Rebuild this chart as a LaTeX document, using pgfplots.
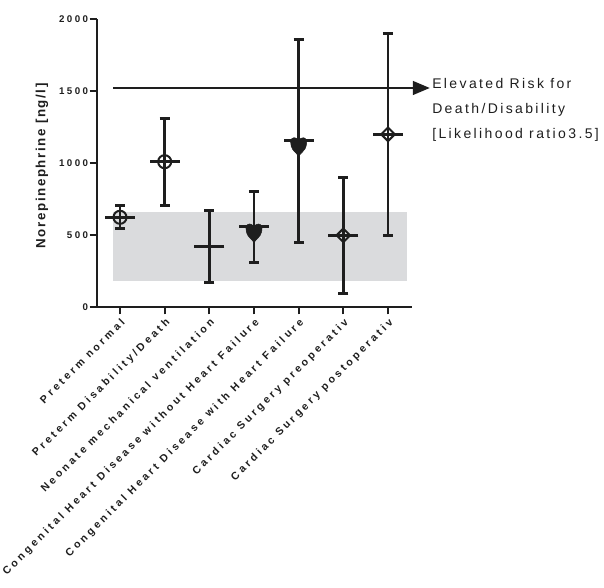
\documentclass[border=0pt]{standalone}
\usepackage{fontspec}
\setmainfont{Liberation Sans}
\newfontfamily\tickfont[LetterSpace=25]{Liberation Sans}
\newfontfamily\xtickfont[LetterSpace=28]{Liberation Sans}
\newfontfamily\labfont[LetterSpace=12]{Liberation Sans}
\newfontfamily\annfont[LetterSpace=17]{Liberation Sans}
\usepackage{pgfplots}
\pgfplotsset{compat=1.18}
\usetikzlibrary{arrows.meta,plotmarks}
\definecolor{band}{RGB}{218,219,221}
\definecolor{ink}{RGB}{30,30,30}

\begin{document}
\begin{tikzpicture}
\path[use as bounding box] (-72.75pt,-210pt) rectangle (380.25pt,230.25pt);
\begin{axis}[
  scale only axis, width=236pt, height=216pt,
  xmin=-0.515, xmax=6.53, ymin=0, ymax=2000,
  axis lines=left,
  axis line style={-, line width=1.6pt, ink},
  clip=false,
  xtick={0,1,2,3,4,5,6},
  xticklabels={Preterm normal, Preterm Disability/Death, Neonate mechanical ventilation, Congenital Heart Disease without Heart Failure, Congenital Heart Disease with Heart Failure, Cardiac Surgery preoperativ, Cardiac Surgery postoperativ},
  ytick={0,500,1000,1500,2000},
  tick align=outside, major tick length=5.5pt,
  tick style={line width=1.5pt, ink},
  /pgf/number format/assume math mode=true,
  /pgf/number format/1000 sep={},
  scaled y ticks=false,
  yticklabel style={font=\tickfont\bfseries\fontsize{7.3}{8}\selectfont, inner sep=1pt, text=ink},
  xticklabel style={font=\xtickfont\bfseries\fontsize{8}{9}\selectfont, rotate=45, anchor=north east, inner sep=1.5pt, text=ink},
  ylabel={Norepinephrine [ng/l]},
  ylabel style={font=\labfont\bfseries\fontsize{10}{12}\selectfont, at={(axis description cs:-0.175,0.49)}, anchor=center, text=ink},
]
\addplot[fill=band, draw=none] coordinates {(-0.15,181) (6.43,181) (6.43,660) (-0.15,660)} -- cycle;
\addplot[ink, line width=2.2pt, -{Triangle[length=12.75pt,width=10pt]}] coordinates {(-0.15,1521) (6.94,1521)};
\addplot[ink, only marks, mark=-, mark size=11.25pt, mark options={line width=2.2pt},
  error bars/.cd, y dir=both, y explicit,
  error bar style={line width=2.2pt, ink},
  error mark=-,
  error mark options={rotate=90, line width=2.2pt, mark size=3.75pt, ink}]
  coordinates {
  (0,623) += (0,85) -= (0,79)
  (1,1009) += (0,301) -= (0,303)
  (2,419) += (0,250) -= (0,250)
  (3,558) += (0,243) -= (0,248)
  (4,1157) += (0,702) -= (0,708)
  (5,498) += (0,403) -= (0,403)
  (6,1199) += (0,702) -= (0,701)
  };
\addplot[ink, only marks, mark=o, mark size=4.9pt, mark options={line width=1.5pt}] coordinates {(0,623) (1,1009)};
\addplot[ink, only marks, mark=square, mark size=3.6pt, mark options={rotate=45, line width=1.5pt}] coordinates {(5,498) (6,1199)};
\addplot[ink, only marks, mark=heart, mark size=6pt, mark options={fill=ink, yshift=-1.5pt}] coordinates {(3,558) (4,1157)};
\node[anchor=north west, align=left, inner sep=0pt, text=ink, font=\annfont\fontsize{10.5}{18.75}\selectfont] at (axis cs:6.985,1590) {Elevated Risk for\\Death/Disability\\{[}Likelihood ratio3.5{]}};
\end{axis}
\end{tikzpicture}
\end{document}
